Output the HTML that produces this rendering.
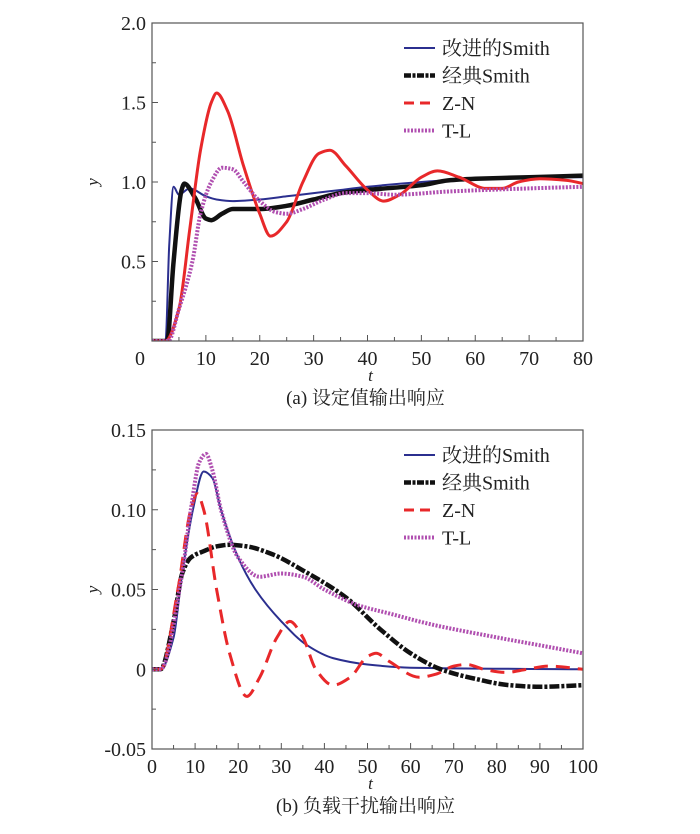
<!DOCTYPE html>
<html><head><meta charset="utf-8"><style>
body{margin:0;background:#fff;width:700px;height:829px;overflow:hidden}
svg text{font-family:"Liberation Serif","Noto Serif CJK SC",serif;fill:#222}
</style></head><body>
<svg id="s" width="700" height="829"></svg>
<script>
// Chart (a) data
const aTicksX=[0,10,20,30,40,50,60,70,80];
const aTicksY=[0.5,1.0,1.5,2.0];
const aBlueT=[0,2.5,3.2,4,5,7,10,12,15,20,25,30,35,40,50,60,70,80];
const aBlueY=[0,0,0.6,0.97,0.92,0.96,0.91,0.89,0.88,0.89,0.91,0.93,0.95,0.97,1.0,1.02,1.03,1.03];
const aBlackT=[0,2.8,4,5.5,6,8,10,11,13,15,20,25,30,35,40,50,55,60,70,80];
const aBlackY=[0,0,0.5,0.95,0.99,0.9,0.77,0.76,0.8,0.83,0.83,0.85,0.89,0.93,0.95,0.98,1.01,1.02,1.03,1.04];
const aRedT=[0,2.5,5,7,9,11,12,14,17,20,22,25,28,31,33,36,40,43,46,50,53,57,62,65,68,72,77,80];
const aRedY=[0,0,0.2,0.7,1.2,1.5,1.56,1.45,1.1,0.8,0.66,0.75,1.0,1.18,1.2,1.1,0.95,0.88,0.92,1.03,1.07,1.03,0.96,0.96,1.0,1.02,1.01,0.99];
const aMagT=[0,3,5,7.5,9,11,13,15,17,20,23,25,28,32,36,40,45,55,70,80];
const aMagY=[0,0,0.2,0.5,0.8,1.0,1.09,1.08,1.0,0.88,0.81,0.8,0.83,0.89,0.93,0.93,0.92,0.94,0.96,0.97];
// Chart (b) data
const bTicksX=[0,10,20,30,40,50,60,70,80,90,100];
const bTicksY=[-0.05,0,0.05,0.10,0.15];
const bTickLabels=["-0.05","0","0.05","0.10","0.15"];
const bBlueT=[0,2,5,7,9.5,12,14,16,20,24,30,36,42,50,60,100];
const bBlueY=[0,0,0.02,0.06,0.1,0.124,0.12,0.1,0.07,0.05,0.03,0.015,0.007,0.003,0.001,0];
const bBlackT=[0,2,5,7,9,12,15,18,22,28,35,45,53,60,67,75,83,90,100];
const bBlackY=[0,0,0.03,0.06,0.07,0.074,0.077,0.078,0.077,0.072,0.062,0.045,0.025,0.01,0,-0.006,-0.01,-0.011,-0.01];
const bRedT=[0,2,6,9,10.5,12,15,18,22,25,29,32,35,38,42,46,50,52,55,62,66,70,73,77,82,87,92,100];
const bRedY=[0,0,0.05,0.1,0.11,0.1,0.05,0.01,-0.017,-0.005,0.02,0.03,0.02,0,-0.01,-0.005,0.008,0.01,0.005,-0.005,-0.003,0.002,0.003,0,-0.002,0,0.002,0];
const bMagT=[0,2,7,9,11,12.5,14,16,20,25,30,35,40,48,55,65,80,90,100];
const bMagY=[0,0,0.06,0.1,0.13,0.135,0.125,0.1,0.07,0.058,0.06,0.058,0.05,0.04,0.035,0.028,0.02,0.015,0.01];

const NS="http://www.w3.org/2000/svg";
const svg=document.getElementById('s');
function mk(tag,attrs,parent){const e=document.createElementNS(NS,tag);for(const k in attrs)e.setAttribute(k,attrs[k]);(parent||svg).appendChild(e);return e;}
// monotone cubic (Fritsch-Carlson) in pixel space
function path(xs,ys,sx,sy){
  const X=xs.map(sx),Y=ys.map(sy),n=X.length;
  const d=[],m=new Array(n);
  for(let i=0;i<n-1;i++)d.push((Y[i+1]-Y[i])/(X[i+1]-X[i]));
  m[0]=d[0];m[n-1]=d[n-2];
  for(let i=1;i<n-1;i++){
    if(d[i-1]*d[i]<=0)m[i]=0;
    else{const w1=2*(X[i+1]-X[i])+(X[i]-X[i-1]),w2=(X[i+1]-X[i])+2*(X[i]-X[i-1]);m[i]=(w1+w2)/(w1/d[i-1]+w2/d[i]);}
  }
  let s='M'+X[0].toFixed(1)+','+Y[0].toFixed(1);
  for(let i=0;i<n-1;i++){
    const h=(X[i+1]-X[i])/3;
    s+=`C${(X[i]+h).toFixed(1)},${(Y[i]+m[i]*h).toFixed(1)} ${(X[i+1]-h).toFixed(1)},${(Y[i+1]-m[i+1]*h).toFixed(1)} ${X[i+1].toFixed(1)},${Y[i+1].toFixed(1)}`;
  }
  return s;
}
const styles={
 blue:{stroke:'#2b2f8f','stroke-width':2},
 black:{stroke:'#111','stroke-width':4.5,'stroke-dasharray':'10,2,3,2'},
 red:{stroke:'#e8282a','stroke-width':3},
 mag:{stroke:'#b04fb0','stroke-width':4,'stroke-dasharray':'2,1.5'}
};
function chart(cfg){
  const {x0,x1,y0,y1,xmax,ymin,ymax,prefix}=cfg;
  const sx=t=>x0+(t/xmax)*(x1-x0);
  const sy=v=>y1-(v-ymin)/(ymax-ymin)*(y1-y0);
  const g=mk('g',{});
  
  
  const clip=mk('clipPath',{id:prefix+'clip'},g);
  mk('rect',{x:x0,y:y0,width:x1-x0,height:y1-y0},clip);
  const series=[['blue',cfg.blue],['black',cfg.black],['red',cfg.red],['mag',cfg.mag]];
  const names={blue:'improved-smith-line',black:'classic-smith-line',red:'zn-line',mag:'tl-line'};
  series.forEach(([k,[xs,ys]])=>{
    const st=Object.assign({fill:'none','clip-path':`url(#${prefix}clip)`,'stroke-linejoin':'round'},styles[k]);
    if(k==='red'&&cfg.redDashed){st['stroke-dasharray']='14,8';st['stroke-width']=3;}
    if(k==='black'&&cfg.blackSolid){st['stroke-dasharray']='none';}
    const e=mk('path',Object.assign({d:path(xs,ys,sx,sy)},st),g);
    
    
  });
  const fr=mk('rect',{x:x0,y:y0,width:x1-x0,height:y1-y0,fill:'none',stroke:'#555','stroke-width':1.2},g);
  
  
  const xt=cfg.xticks,step=xt[1]-xt[0];
  xt.forEach((t,i)=>{
    mk('line',{x1:sx(t),x2:sx(t),y1:y1,y2:y1-6,stroke:'#555'},g);
    if(i<xt.length-1)mk('line',{x1:sx(t+step/2),x2:sx(t+step/2),y1:y1,y2:y1-4,stroke:'#555'},g);
    const off=(i===0&&cfg.zeroShift)?cfg.zeroShift:0;
    const tx=mk('text',{x:sx(t)+off,y:y1+24,'font-size':20,'text-anchor':'middle'},g);tx.textContent=t;
    
    
  });
  cfg.yticks.forEach((v,i)=>{
    mk('line',{x1:x0,x2:x0+6,y1:sy(v),y2:sy(v),stroke:'#555'},g);
    if(v-cfg.ystep/2>ymin)mk('line',{x1:x0,x2:x0+4,y1:sy(v-cfg.ystep/2),y2:sy(v-cfg.ystep/2),stroke:'#555'},g);
    const tx=mk('text',{x:x0-6,y:sy(v)+7,'font-size':20,'text-anchor':'end'},g);tx.textContent=cfg.ylabels[i];
    
    
  });
  const xl=mk('text',{x:(x0+x1)/2+3,y:y1+40,'font-size':17,'font-style':'italic','text-anchor':'middle'},g);xl.textContent='t';
  
  
  const yl=mk('text',{x:x0-54,y:(y0+y1)/2,'font-size':17,'font-style':'italic','text-anchor':'middle',transform:`rotate(-90 ${x0-54} ${(y0+y1)/2})`},g);yl.textContent='y';
  
  
  const cap=mk('text',{x:(x0+x1)/2-2,y:y1+63,'font-size':19,'text-anchor':'middle'},g);cap.textContent=cfg.caption;
  
  
  const labs=['改进的Smith','经典Smith','Z-N','T-L'];
  ['blue','black','red','mag'].forEach((k,i)=>{
    const ly=cfg.legY+i*27.5;
    const st=Object.assign({},styles[k]);
    if(k==='red')st['stroke-dasharray']='10,6';
    if(k==='black')st['stroke-dasharray']='7,1.5,3,1.5';
    const ln=mk('line',Object.assign({x1:404,x2:435,y1:ly,y2:ly},st),g);
    
    
    const t=mk('text',{x:442,y:ly+7,'font-size':20},g);t.textContent=labs[i];
    
    
  });
}
chart({prefix:'a',x0:152,x1:583,y0:23,y1:341,xmax:80,ymin:0,ymax:2,xticks:aTicksX,yticks:aTicksY,ylabels:['0.5','1.0','1.5','2.0'],ystep:0.5,zeroShift:-12,blackSolid:true,
 blue:[aBlueT,aBlueY],black:[aBlackT,aBlackY],red:[aRedT,aRedY],mag:[aMagT,aMagY],legY:48,caption:'(a) 设定值输出响应'});
chart({prefix:'b',x0:152,x1:583,y0:430,y1:749,xmax:100,ymin:-0.05,ymax:0.15,xticks:bTicksX,yticks:bTicksY,ylabels:bTickLabels,ystep:0.05,redDashed:true,
 blue:[bBlueT,bBlueY],black:[bBlackT,bBlackY],red:[bRedT,bRedY],mag:[bMagT,bMagY],legY:455,caption:'(b) 负载干扰输出响应'});
</script>
</body></html>
